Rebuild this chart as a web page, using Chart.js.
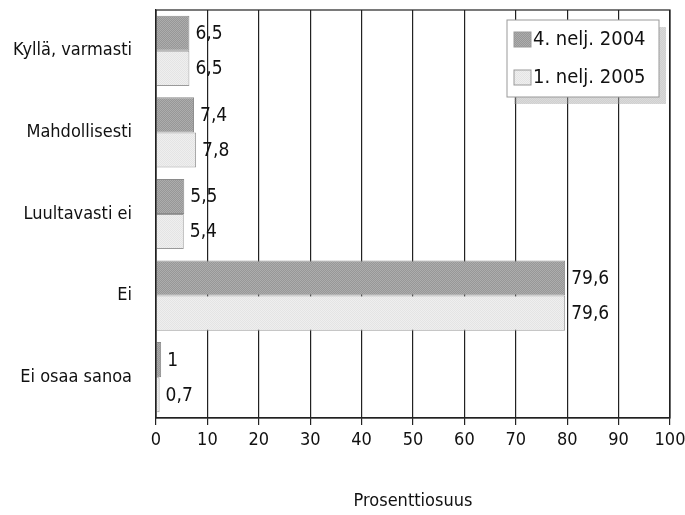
<!DOCTYPE html>
<html>
<head>
<meta charset="utf-8">
<script src="https://cdn.jsdelivr.net/npm/chart.js@4"></script>
<style>
  html, body { margin: 0; padding: 0; background: #fff; }
  #wrap { width: 685px; height: 515px; }
</style>
</head>
<body>
<div id="wrap"><canvas id="myChart" width="685" height="515"></canvas></div>
<script>
const categories = ['Kyllä, varmasti', 'Mahdollisesti', 'Luultavasti ei', 'Ei', 'Ei osaa sanoa'];
const q4_2004 = [6.5, 7.4, 5.5, 79.6, 1];
const q1_2005 = [6.5, 7.8, 5.4, 79.6, 0.7];
const seriesNames = ['4. nelj. 2004', '1. nelj. 2005'];
const xTicks = [0, 10, 20, 30, 40, 50, 60, 70, 80, 90, 100];
const axisTitle = 'Prosenttiosuus';

const FONT = "'Liberation Sans Narrow', 'DejaVu Sans Condensed', 'Roboto', sans-serif";

// small texture tiles so the bars look a bit like the printed screen
function makePattern(c1, c2) {
    let p = document.createElement('canvas');
    p.width = 2; p.height = 2;
    let g = p.getContext('2d');
    g.fillStyle = c1; g.fillRect(0, 0, 2, 2);
    g.fillStyle = c2; g.fillRect(0, 0, 1, 1); g.fillRect(1, 1, 1, 1);
    return g.createPattern(p, 'repeat');
}
const darkFill = makePattern('#979797', '#adadad');
const lightFill = makePattern('#efefef', '#e4e4e4');

// value labels at the bar ends
const valueLabels = {
    id: 'valueLabels',
    afterDatasetsDraw(chart) {
        const ctx = chart.ctx;
        ctx.save();
        ctx.font = '19px ' + FONT;
        ctx.fillStyle = '#111';
        ctx.textBaseline = 'middle';
        ctx.textAlign = 'left';
        chart.data.datasets.forEach((ds, i) => {
            chart.getDatasetMeta(i).data.forEach((bar, j) => {
                ctx.fillText(String(ds.data[j]).replace('.', ','), bar.x + 6, bar.y + 1);
            });
        });
        ctx.restore();
    }
};

// frame round the plot + boxed legend with a shadow
const frameAndLegend = {
    id: 'frameAndLegend',
    afterDraw(chart) {
        const ctx = chart.ctx;
        const a = chart.chartArea;
        ctx.save();
        ctx.strokeStyle = '#222';
        ctx.lineWidth = 1.2;
        ctx.strokeRect(a.left, a.top, a.right - a.left, a.bottom - a.top);

        let lx = 507, ly = 20, lw = 152, lh = 77;
        ctx.fillStyle = darkFill;
        ctx.globalAlpha = 0.45;
        ctx.fillRect(lx + 7, ly + 7, lw, lh);
        ctx.globalAlpha = 1;
        ctx.fillStyle = '#fff';
        ctx.fillRect(lx, ly, lw, lh);
        ctx.strokeStyle = '#999';
        ctx.lineWidth = 1;
        ctx.strokeRect(lx, ly, lw, lh);

        ctx.font = '20px ' + FONT;
        ctx.textBaseline = 'middle';
        ctx.textAlign = 'left';
        const fills = [darkFill, lightFill];
        seriesNames.forEach((name, i) => {
            let y = ly + 19 + i * 38;
            ctx.fillStyle = fills[i];
            ctx.fillRect(lx + 7, y - 7, 17, 15);
            ctx.strokeStyle = '#999';
            ctx.strokeRect(lx + 7, y - 7, 17, 15);
            ctx.fillStyle = '#111';
            ctx.fillText(name, lx + 26, y + 1);
        });
        ctx.restore();
    }
};

const ctx = document.getElementById('myChart');
const myChart = new Chart(ctx, {
    type: 'bar',
    data: {
        labels: categories,
        datasets: [{
            label: seriesNames[0],
            data: q4_2004,
            backgroundColor: darkFill,
            borderColor: '#8a8a8a',
            borderWidth: 1
        }, {
            label: seriesNames[1],
            data: q1_2005,
            backgroundColor: lightFill,
            borderColor: '#9a9a9a',
            borderWidth: 1
        }]
    },
    options: {
        indexAxis: 'y',
        responsive: false,
        animation: false,
        layout: { padding: { top: 10, right: 0, left: 0, bottom: 0 } },
        categoryPercentage: 0.86,
        barPercentage: 1,
        plugins: {
            legend: { display: false },
            tooltip: { enabled: false }
        },
        scales: {
            x: {
                min: 0,
                max: 100,
                afterBuildTicks(axis) { axis.ticks = xTicks.map(v => ({ value: v })); },
                afterFit(axis) { axis.height = 97; axis.paddingRight = 15; axis.paddingLeft = 0; },
                grid: { color: '#222', lineWidth: 1.2, tickLength: 7, drawTicks: true },
                border: { color: '#222', width: 1.2 },
                ticks: { color: '#111', font: { family: FONT, size: 18 }, padding: 5 },
                title: {
                    display: true,
                    text: axisTitle,
                    color: '#111',
                    font: { family: FONT, size: 18 },
                    padding: { top: 37, bottom: 3 }
                }
            },
            y: {
                afterFit(axis) { axis.width = 156; axis.paddingTop = 0; axis.paddingBottom = 0; },
                grid: { display: false },
                border: { color: '#222', width: 1.2 },
                ticks: { color: '#111', font: { family: FONT, size: 18 }, padding: 16 }
            }
        }
    },
    plugins: [valueLabels, frameAndLegend]
});
</script>
</body>
</html>
